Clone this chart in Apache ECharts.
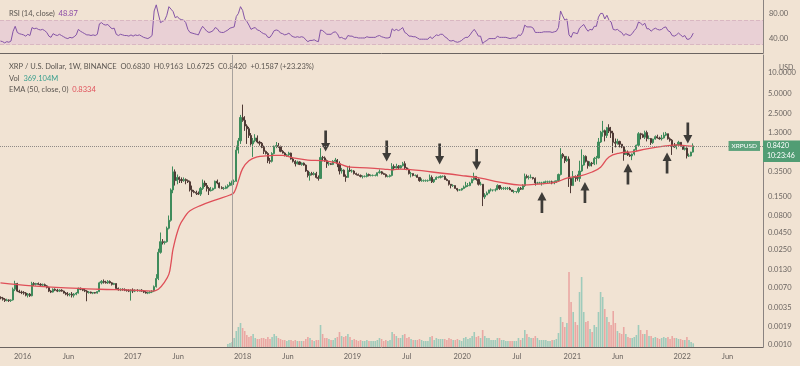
<!DOCTYPE html>
<html><head><meta charset="utf-8">
<script src="https://cdn.jsdelivr.net/npm/echarts@6/dist/echarts.min.js"></script>
<style>html,body{margin:0;padding:0;background:#f1e3d3}#c{width:800px;height:366px}</style>
</head><body><div id="c"></div>
<script>
// ---- data ----
const firstWeek = Date.UTC(2015, 9, 19); // Monday of first weekly candle
const WEEK = 7 * 86400000;
// weekly candles [open, high, low, close]
const ohlc = [
[.0050,.0052,.0047,.0049],[.0049,.0051,.0045,.0047],[.0047,.0049,.0043,.0045],[.0045,.0048,.0044,.0046],[.0046,.0047,.0043,.0045],
[.0045,.0047,.0043,.0046],[.0046,.0070,.0045,.0066],[.0066,.0088,.0062,.0080],[.0080,.0082,.0060,.0062],[.0062,.0065,.0058,.0060],
[.0060,.0063,.0056,.0059],[.0059,.0062,.0055,.0058],[.0058,.0060,.0052,.0054],[.0054,.0058,.0050,.0056],[.0056,.0058,.0051,.0053],
[.0053,.0085,.0052,.0080],[.0080,.0084,.0074,.0078],[.0078,.0082,.0075,.0080],[.0080,.0083,.0076,.0078],[.0078,.0081,.0074,.0076],
[.0076,.0080,.0073,.0077],[.0077,.0080,.0072,.0074],[.0074,.0076,.0068,.0070],[.0070,.0072,.0060,.0062],[.0062,.0064,.0058,.0060],
[.0060,.0068,.0059,.0066],[.0066,.0068,.0062,.0064],[.0064,.0067,.0060,.0062],[.0062,.0066,.0060,.0064],[.0064,.0066,.0061,.0062],
[.0062,.0063,.0057,.0058],[.0058,.0060,.0054,.0056],[.0056,.0060,.0052,.0055],[.0055,.0058,.0052,.0056],[.0056,.0060,.0050,.0054],
[.0054,.0058,.0050,.0056],[.0056,.0060,.0054,.0058],[.0058,.0070,.0057,.0068],[.0068,.0070,.0064,.0066],[.0066,.0068,.0062,.0064],
[.0064,.0067,.0060,.0062],[.0062,.0064,.0044,.0059],[.0059,.0062,.0057,.0060],[.0060,.0061,.0057,.0058],[.0058,.0060,.0056,.0059],
[.0059,.0060,.0057,.0058],[.0058,.0062,.0057,.0061],[.0061,.0085,.0060,.0082],[.0082,.0090,.0078,.0086],[.0086,.0092,.0080,.0084],
[.0084,.0088,.0080,.0082],[.0082,.0090,.0079,.0086],[.0086,.0089,.0080,.0082],[.0082,.0084,.0075,.0078],[.0078,.0082,.0076,.0080],
[.0080,.0081,.0066,.0068],[.0068,.0070,.0063,.0065],[.0065,.0068,.0062,.0066],[.0066,.0068,.0063,.0065],[.0065,.0068,.0062,.0064],
[.0064,.0066,.0061,.0063],[.0063,.0066,.0060,.0062],[.0062,.0066,.0045,.0064],[.0064,.0068,.0058,.0062],[.0062,.0066,.0060,.0064],
[.0064,.0066,.0061,.0063],[.0063,.0065,.0061,.0064],[.0064,.0066,.0061,.0062],[.0062,.0064,.0058,.0060],[.0060,.0062,.0057,.0058],
[.0058,.0061,.0056,.0059],[.0059,.0062,.0057,.0060],[.0060,.0064,.0058,.0062],[.0062,.0075,.0060,.0072],[.0072,.0110,.0070,.0095],
[.0095,.0260,.0090,.0230],[.0230,.0450,.0220,.0330],[.0330,.0360,.0300,.0320],[.0320,.0340,.0300,.0330],[.0330,.0550,.0320,.0520],
[.0520,.0800,.0500,.0680],[.0680,.2000,.0650,.1900],[.1900,.4200,.1700,.3500],[.3500,.3800,.2200,.2600],[.2600,.3200,.2300,.2900],
[.2900,.3000,.2400,.2700],[.2700,.2900,.2400,.2600],[.2600,.2900,.2500,.2700],[.2700,.2800,.2300,.2600],[.2600,.2700,.2400,.2500],
[.2500,.2600,.1800,.1900],[.1900,.2200,.1500,.1800],[.1800,.1900,.1700,.1750],[.1750,.1850,.1600,.1700],[.1700,.1800,.1600,.1650],
[.1650,.2100,.1550,.2000],[.2000,.2700,.1900,.2400],[.2400,.2600,.2100,.2200],[.2200,.2400,.1800,.2000],[.2000,.2100,.1600,.1850],
[.1850,.2100,.1800,.1900],[.1900,.2050,.1850,.2000],[.2000,.2600,.1950,.2550],[.2550,.2700,.2300,.2400],[.2400,.2450,.2000,.2050],
[.2050,.2150,.1950,.2000],[.2000,.2100,.1900,.2000],[.2000,.2200,.1950,.2100],[.2100,.2300,.2000,.2200],[.2200,.2500,.2150,.2400],
[.2400,.2600,.2200,.2500],[.2500,.2700,.2250,.2550],[.2550,.8500,.2500,.7300],[.7300,1.100,.6500,1.000],[1.000,2.400,.9000,2.200],
[2.200,3.400,1.900,2.000],[2.000,2.300,1.400,1.650],[1.650,1.750,.9000,1.500],[1.500,1.600,1.100,1.200],[1.200,1.300,.8500,.9000],
[.9000,1.100,.5800,1.000],[1.000,1.250,.9500,1.100],[1.100,1.200,.9200,.9600],[.9600,1.000,.8500,.9200],[.9200,.9600,.7800,.8000],
[.8000,.8500,.6400,.7000],[.7000,.7200,.6300,.6500],[.6500,.6800,.4700,.5100],[.5100,.5600,.4600,.5000],[.5000,.6800,.4800,.6500],
[.6500,.8500,.6300,.8300],[.8300,.9600,.7800,.8500],[.8500,.9300,.7900,.8200],[.8200,.8500,.6800,.7000],[.7000,.7300,.6500,.6600],
[.6600,.6800,.5900,.6100],[.6100,.6400,.5800,.6200],[.6200,.6900,.6000,.6600],[.6600,.6700,.5300,.5400],[.5400,.5700,.4800,.5000],
[.5000,.5200,.4200,.4600],[.4600,.5100,.4500,.4900],[.4900,.5000,.4400,.4500],[.4500,.4800,.4300,.4700],[.4700,.4800,.4300,.4400],
[.4400,.4500,.3500,.3600],[.3600,.3700,.2900,.3100],[.3100,.3500,.2600,.3300],[.3300,.3500,.3100,.3200],[.3200,.3500,.3100,.3300],
[.3300,.3500,.2800,.2900],[.2900,.3100,.2600,.2800],[.2800,.7800,.2800,.5700],[.5700,.6000,.5000,.5600],[.5600,.5900,.4900,.5100],
[.5100,.5300,.4000,.4600],[.4600,.4900,.4300,.4600],[.4600,.4700,.4400,.4500],[.4500,.5200,.4400,.5000],[.5000,.5600,.4900,.5200],
[.5200,.5400,.4100,.4600],[.4600,.5000,.3200,.3600],[.3600,.4000,.3300,.3700],[.3700,.3800,.3000,.3000],[.3000,.3200,.2500,.2900],
[.2900,.4200,.2900,.3700],[.3700,.4300,.3500,.3600],[.3600,.3800,.3400,.3600],[.3600,.3700,.3200,.3300],[.3300,.3400,.3100,.3200],
[.3200,.3300,.3100,.3100],[.3100,.3200,.2900,.3000],[.3000,.3100,.2800,.3000],[.3000,.3100,.2900,.3000],[.3000,.3400,.2900,.3200],
[.3200,.3300,.3000,.3100],[.3100,.3200,.3000,.3100],[.3100,.3200,.3000,.3100],[.3100,.3200,.3000,.3100],[.3100,.3400,.3000,.3400],
[.3400,.3800,.3300,.3500],[.3500,.3600,.3200,.3300],[.3300,.3400,.3200,.3200],[.3200,.3300,.2900,.3000],[.3000,.3100,.2900,.3000],
[.3000,.3200,.2900,.3100],[.3100,.4700,.3000,.4200],[.4200,.4500,.3700,.4000],[.4000,.4600,.3900,.4200],[.4200,.4400,.3800,.4000],
[.4000,.4400,.3900,.4300],[.4300,.4900,.4200,.4600],[.4600,.5000,.3800,.4000],[.4000,.4100,.3700,.3800],[.3800,.3900,.3200,.3300],
[.3300,.3500,.2900,.3300],[.3300,.3300,.3000,.3100],[.3100,.3200,.3000,.3100],[.3100,.3200,.2900,.2900],[.2900,.2900,.2500,.2600],
[.2600,.2800,.2500,.2600],[.2600,.2700,.2500,.2600],[.2600,.2700,.2500,.2600],[.2600,.2700,.2500,.2600],[.2600,.3200,.2600,.2900],
[.2900,.3100,.2400,.2500],[.2500,.2700,.2400,.2700],[.2700,.3000,.2700,.2900],[.2900,.3000,.2800,.2900],[.2900,.3100,.2800,.3000],
[.3000,.3100,.2900,.3000],[.3000,.3100,.2700,.2700],[.2700,.2800,.2600,.2600],[.2600,.2600,.2200,.2300],[.2300,.2300,.2000,.2200],
[.2200,.2300,.2100,.2200],[.2200,.2200,.2000,.2000],[.2000,.2000,.1800,.1900],[.1900,.1950,.1850,.1900],[.1900,.2000,.1850,.2000],
[.2000,.2200,.1950,.2100],[.2100,.2500,.2050,.2200],[.2200,.2400,.2100,.2200],[.2200,.2500,.2150,.2400],[.2400,.2800,.2400,.2700],
[.2700,.3400,.2600,.3000],[.3000,.3000,.2600,.2700],[.2700,.2800,.2200,.2300],[.2300,.2500,.2200,.2300],[.2300,.2300,.1100,.1500],
[.1500,.1700,.1400,.1600],[.1600,.1800,.1600,.1700],[.1700,.1900,.1700,.1900],[.1900,.2000,.1800,.1900],[.1900,.1900,.1800,.1900],
[.1900,.2000,.1800,.1900],[.1900,.2300,.1900,.2200],[.2200,.2200,.1900,.2000],[.2000,.2100,.1900,.2000],[.2000,.2100,.1900,.2000],
[.2000,.2100,.1900,.2000],[.2000,.2100,.1900,.2000],[.2000,.2100,.1900,.1900],[.1900,.1900,.1800,.1800],[.1800,.1900,.1700,.1800],
[.1800,.1800,.1700,.1800],[.1800,.2100,.1700,.2000],[.2000,.2100,.1900,.1950],[.1950,.2300,.1900,.2200],[.2200,.3300,.2100,.3000],
[.3000,.3200,.2800,.2900],[.2900,.3100,.2700,.2900],[.2900,.3200,.2800,.2900],[.2900,.2900,.2700,.2800],[.2800,.2900,.2200,.2400],
[.2400,.2500,.2300,.2400],[.2400,.2500,.2400,.2400],[.2400,.2500,.2200,.2400],[.2400,.2500,.2300,.2500],[.2500,.2600,.2400,.2500],
[.2500,.2600,.2400,.2500],[.2500,.2600,.2400,.2500],[.2500,.2600,.2300,.2400],[.2400,.2600,.2300,.2500],[.2500,.2600,.2400,.2600],
[.2600,.3300,.2500,.3200],[.3200,.7800,.3100,.6300],[.6300,.6600,.5500,.5900],[.5900,.6000,.4700,.5100],[.5100,.6000,.4900,.5400],
[.5400,.5900,.2100,.2800],[.2800,.2900,.1700,.2200],[.2200,.3600,.2200,.3000],[.3000,.3100,.2500,.2900],[.2900,.3200,.2600,.2800],
[.2800,.5100,.2500,.3600],[.3600,.7500,.3500,.4400],[.4400,.6200,.4300,.5900],[.5900,.6100,.4800,.5000],[.5000,.5100,.3900,.4300],
[.4300,.5000,.4200,.4700],[.4700,.4900,.4200,.4600],[.4600,.5800,.4400,.5500],[.5500,.6000,.4500,.5600],[.5600,1.100,.5500,.9600],
[.9600,1.400,.9300,1.340],[1.340,1.960,1.150,1.410],[1.410,1.460,.9800,1.200],[1.200,1.600,1.100,1.560],[1.560,1.750,1.300,1.390],
[1.390,1.600,1.100,1.300],[1.300,1.400,.6600,.9500],[.9500,1.080,.8000,.9200],[.9200,1.070,.8800,.9800],[.9800,1.000,.8000,.8900],
[.8900,.9000,.7800,.8100],[.8100,.8300,.5100,.6300],[.6300,.7400,.6200,.6800],[.6800,.7200,.6000,.6200],[.6200,.6500,.5800,.6000],
[.6000,.6500,.5200,.6400],[.6400,.7600,.6100,.7400],[.7400,.8800,.7000,.8600],[.8600,1.340,.8400,1.270],[1.270,1.310,1.050,1.230],
[1.230,1.280,1.100,1.130],[1.130,1.410,1.060,1.320],[1.320,1.410,.9800,1.080],[1.080,1.200,1.050,1.080],[1.080,1.100,.8700,.9400],
[.9400,1.070,.9000,1.060],[1.060,1.200,1.040,1.150],[1.150,1.230,1.080,1.100],[1.100,1.150,1.040,1.070],[1.070,1.220,1.010,1.100],
[1.100,1.330,1.080,1.210],[1.210,1.350,1.170,1.270],[1.270,1.270,1.040,1.070],[1.070,1.120,.9700,1.020],[1.020,1.060,.6200,.8300],
[.8300,.9300,.7900,.8100],[.8100,.8800,.7500,.8700],[.8700,1.000,.8500,.9500],[.9500,.9600,.8100,.8300],[.8300,.8600,.7400,.7500],
[.7500,.8000,.7200,.7800],[.7800,.8000,.5500,.6000],[.6000,.6500,.5800,.6000],[.6000,.6900,.5900,.6830],[.6830,.9163,.6725,.8420]
];
// RSI(14) per week
const rsi = [
36,35,33,35,34,36,52,60,50,48, 47,46,44,47,45,58,56,57,55,54, 55,53,50,44,42,48,46,45,47,45,
43,41,40,42,41,43,46,55,52,50, 48,46,46,45,46,45,47,64,66,63, 62,63,59,56,57,47,45,47,46,45,
45,44,46,44,46,45,46,44,42,41, 40,42,45,85,95,80,66,68,70,78, 92,88,84,74,76,72,71,70,66,55,
50,49,48,47,46,54,60,56,52,50, 51,53,58,56,51,50,50,52,54,57, 58,59,76,81,92,86,72,68,62,55,
57,58,54,53,50,48,47,42,42,47, 53,54,53,49,48,46,47,49,45,43, 42,43,42,43,42,38,35,37,37,38,
36,35,54,53,50,47,47,47,50,51, 48,41,42,40,39,45,44,44,42,42, 41,41,41,41,43,42,42,42,42,44,
45,43,42,41,41,42,56,53,55,53, 55,58,50,48,44,44,43,43,41,39, 39,39,39,39,43,40,43,46,45,47,
47,43,41,37,36,37,35,34,35,37, 40,42,42,46,51,55,50,44,44,32, 35,37,40,40,40,40,44,42,42,42,
42,41,40,41,41,41,46,45,50,62, 59,59,59,57,50,50,50,50,51,51, 51,51,50,51,52,58,85,77,70,72,
46,42,50,49,48,57,60,63,57,52, 55,54,60,60,75,81,81,72,78,70, 67,55,54,55,52,50,45,48,46,45,
48,53,57,67,65,62,65,56,56,52, 55,57,55,54,55,58,59,53,51,45, 44,46,49,46,43,45,39,39,42,48.87
];
// weekly volume (millions), starting at week index volumeFirstWeek
const volumeFirstWeek = 108;
const volume = [
300,400,500,900, 1600,2000,2400,1900,1600,1200,1000,1100,
1300,900,800,800,900,900,800,1000,800,1000,1300,1100,900,800,700,700,600,700,700,600,
700,600,600,600,600,800,1000,900,700,600,700,700,2200,1300,900,900,800,700,700,900,
1000,1500,1100,1000,1100,1300,1000,700,800,700,600,700,600,600,700,600,600,600,600,700,
900,800,600,700,600,700,1500,1300,1100,900,900,1200,1300,900,1000,800,700,700,700,800,
700,600,600,600,1000,1100,700,900,800,800,800,800,700,900,800,700,700,800,700,600,
900,1000,800,900,1100,1500,1000,1100,900,1700,1100,900,900,700,700,700,900,900,700,700,
600,600,600,600,600,600,900,700,900,1700,1300,1000,900,900,1100,900,700,700,700,700,
600,600,700,700,800,1400,3000,2500,2000,2400,7500,4500,3500,2500,2200,5500,7000,3500,2500,2600,
1800,1500,2200,2000,3500,5500,5000,3800,3000,2500,2200,3600,2400,1600,1400,1300,2000,1300,1000,900,
900,1000,1200,2200,1700,1300,1300,1700,1100,1100,900,1000,900,800,900,1000,900,1000,800,1100,
900,900,800,800,700,700,1000,700,500,369.104
];
// EMA(50) at selected weeks
const emaWeek  = [0,15,31,47,63,72,75,78,80,81,82,85,88,90,95,103,109,111,113,115,118,122,126,130,134,139,146,153,160,166,174,182,186,190,205,221,228,237,247,256,264,269,275,281,285,289,294,300,307,316,321,326,329];
const emaValue = [0.0082,0.0074,0.0069,0.0066,0.0064,0.0062,0.0066,0.0085,0.011,0.016,0.026,0.056,0.08,0.094,0.112,0.138,0.16,0.175,0.26,0.39,0.51,0.58,0.60,0.61,0.61,0.56,0.52,0.51,0.47,0.41,0.40,0.385,0.375,0.385,0.348,0.304,0.284,0.248,0.224,0.232,0.248,0.284,0.304,0.348,0.41,0.58,0.66,0.69,0.76,0.84,0.87,0.84,0.8334];
// annotation arrows
const arrowDates  = ['2018-10-04','2019-04-25','2019-10-18','2020-02-18','2022-01-20','2020-09-22','2021-02-12','2021-07-05','2021-11-12'];
const arrowPrices = [0.99,0.708,0.64,0.531,1.30,0.124,0.174,0.325,0.472];
const arrowDirs   = ['down','down','down','down','down','up','up','up','up'];
// axes
const priceTicks = [10,5,2.5,1.3,0.35,0.15,0.08,0.045,0.025,0.013,0.007,0.0035,0.0019,0.001];
const rsiTicks = [80,40];
const timeTickDates  = ['2016-01-01','2016-06-01','2017-01-01','2017-06-01','2018-01-01','2018-06-01','2019-01-01','2019-07-01','2020-01-01','2020-07-01','2021-01-01','2021-06-01','2022-01-01','2022-06-01'];
const timeTickLabels = ['2016','Jun','2017','Jun','2018','Jun','2019','Jul','2020','Jul','2021','Jun','2022','Jun'];
const lastClose = 0.8420;
const cursorDate = '2017-11-29';

// ---- build ----
const ts = s => Date.parse(s + 'T00:00:00Z');
const xMin = ts('2015-10-17') + 12 * 3600000;
const xMax = ts('2022-09-26') + 22 * 3600000;
const dates = ohlc.map((_, i) => firstWeek + i * WEEK);
const UP = '#3f8c5c', DOWN = '#4f3a35';
const candles = ohlc.map((d, i) => [dates[i], d[0], d[3], d[2], d[1]]);
const volData = volume.map((v, k) => {
  const i = k + volumeFirstWeek;
  const up = ohlc[i][3] >= ohlc[i][0];
  return { value: [dates[i], v], itemStyle: { color: up ? '#9fcbbb' : '#eaa7a3' } };
});
const emaData = emaWeek.map((w, k) => [firstWeek + w * WEEK, emaValue[k]]);
const rsiData = rsi.map((v, i) => [dates[i], v]);
const tickTs = timeTickDates.map(ts);
const tickMap = {}; tickTs.forEach((t, k) => tickMap[t] = timeTickLabels[k]);
const downPath = 'path://M3.5,0L6.5,0L6.5,13L10,13L5,22L0,13L3.5,13Z';
const upPath = 'path://M5,0L10,9L6.5,9L6.5,22L3.5,22L3.5,9L0,9Z';
const arrowData = arrowDates.map((d, k) => ({ value: [ts(d), arrowPrices[k]], symbol: arrowDirs[k] === 'down' ? downPath : upPath }));

const FONT = 'Lato, "DejaVu Sans", sans-serif';
const TXT = '#5a5550';
const LFS = 7.5;
const axisLbl = { fontSize: 7.5, color: '#6a6460', fontFamily: FONT };
const BADGE = '#519d74';

const chart = echarts.init(document.getElementById('c'), null, { renderer: 'canvas' });
chart.setOption({
  backgroundColor: '#f1e3d3',
  animation: false,
  textStyle: { fontFamily: FONT },
  title: [
    { left: 4, top: 5, text: 'RSI (14, close)  {p|48.87}', textStyle: { fontSize: LFS, color: TXT, fontWeight: 'normal', rich: { p: { color: '#8a4aa6', fontSize: LFS } } } },
    { left: 4, top: 58, text: 'XRP / U.S. Dollar, 1W, BINANCE  O0.6830  H0.9163  L0.6725  C0.8420  +0.1587 (+23.23%)', textStyle: { fontSize: LFS, color: TXT, fontWeight: 'normal' } },
    { left: 4, top: 70, text: 'Vol  {v|369.104M}', textStyle: { fontSize: LFS, color: TXT, fontWeight: 'normal', rich: { v: { color: '#3a9f8e', fontSize: LFS } } } },
    { left: 4, top: 81, text: 'EMA (50, close, 0)  {e|0.8334}', textStyle: { fontSize: LFS, color: TXT, fontWeight: 'normal', rich: { e: { color: '#e0505a', fontSize: LFS } } } },
    { left: 774, top: 59, text: 'USD', textStyle: { fontSize: 7, color: '#6a6460', fontWeight: 'normal' } }
  ],
  grid: [
    { left: 0, right: 37, top: 0, height: 53 },
    { left: 0, right: 37, top: 55, height: 292 }
  ],
  xAxis: [
    { type: 'value', gridIndex: 0, min: xMin, max: xMax, axisLine: { show: true, lineStyle: { color: '#6b6461', width: 1 } }, axisTick: { show: false }, axisLabel: { show: false }, splitLine: { show: false } },
    { type: 'value', gridIndex: 1, min: xMin, max: xMax, axisLine: { show: true, lineStyle: { color: '#6b6461', width: 1 } }, axisTick: { show: false }, splitLine: { show: false },
      axisLabel: Object.assign({ customValues: tickTs, margin: 6, formatter: v => tickMap[v] || '' }, axisLbl) }
  ],
  yAxis: [
    { type: 'value', gridIndex: 0, position: 'right', min: 16.5, max: 102.9, axisLine: { show: true, lineStyle: { color: '#8a8380' } }, axisTick: { show: false }, splitLine: { show: false },
      axisLabel: Object.assign({ customValues: rsiTicks, margin: 6, formatter: v => v.toFixed(2) }, axisLbl) },
    { type: 'log', logBase: 10, gridIndex: 1, position: 'right', min: 0.000937, max: 18.2, axisLine: { show: true, lineStyle: { color: '#8a8380' } }, axisTick: { show: false }, splitLine: { show: false },
      axisLabel: Object.assign({ customValues: priceTicks, margin: 5, formatter: v => Number(v).toFixed(4) }, axisLbl) },
    { type: 'value', gridIndex: 1, min: 0, max: 29200, show: false }
  ],
  series: [
    { type: 'line', xAxisIndex: 0, yAxisIndex: 0, data: rsiData, showSymbol: false, lineStyle: { color: '#8454a6', width: 1 }, z: 3,
      markArea: { silent: true, itemStyle: { color: '#e9d0d5' }, data: [[{ yAxis: 30 }, { yAxis: 70 }]] },
      markLine: { silent: true, symbol: ['none', 'none'], label: { show: false }, lineStyle: { color: '#d9b7c2', type: 'dashed', width: 1 }, data: [{ yAxis: 70 }, { yAxis: 30 }] } },
    { type: 'bar', xAxisIndex: 1, yAxisIndex: 2, data: volData, barWidth: 1.6, z: 1 },
    { type: 'candlestick', xAxisIndex: 1, yAxisIndex: 1, data: candles, encode: { x: 0, y: [1, 2, 3, 4] }, barWidth: 1.6, z: 3,
      itemStyle: { color: UP, color0: DOWN, borderColor: UP, borderColor0: DOWN, borderWidth: 1 },
      markLine: { silent: true, symbol: ['none', 'none'], animation: false, z: 10,
        data: [
          { yAxis: lastClose, lineStyle: { color: 'transparent' },
            label: { show: true, position: 'end', distance: 0, align: 'left', verticalAlign: 'top', formatter: '10:23:46', color: '#ffffff', backgroundColor: BADGE, padding: [6, 4, 2, 4], fontSize: 7, lineHeight: 8, width: 29 } },
          { yAxis: lastClose, lineStyle: { color: '#8f8a86', type: 'dotted', width: 1 },
            label: { show: true, position: 'end', distance: 0, align: 'left', verticalAlign: 'middle', formatter: '0.8420', color: '#ffffff', backgroundColor: BADGE, padding: [2, 4, 1, 4], fontSize: 7, lineHeight: 8, width: 29 } },
          { yAxis: lastClose, lineStyle: { color: 'transparent' },
            label: { show: true, position: 'end', distance: -3, align: 'right', verticalAlign: 'middle', formatter: 'XRPUSD', color: '#ffffff', backgroundColor: '#5ea37c', padding: [2, 3, 1, 3], fontSize: 6.5, lineHeight: 7 } },
          { xAxis: ts(cursorDate), lineStyle: { color: '#a8a29d', type: 'solid', width: 1 }, label: { show: false } }
        ] } },
    { type: 'line', xAxisIndex: 1, yAxisIndex: 1, data: emaData, smooth: 0.4, showSymbol: false, lineStyle: { color: '#df4f58', width: 1.3 }, z: 4 },
    { type: 'scatter', xAxisIndex: 1, yAxisIndex: 1, data: arrowData, symbolSize: [9, 21], itemStyle: { color: '#111111' }, z: 6 }
  ]
});
</script>
</body></html>
